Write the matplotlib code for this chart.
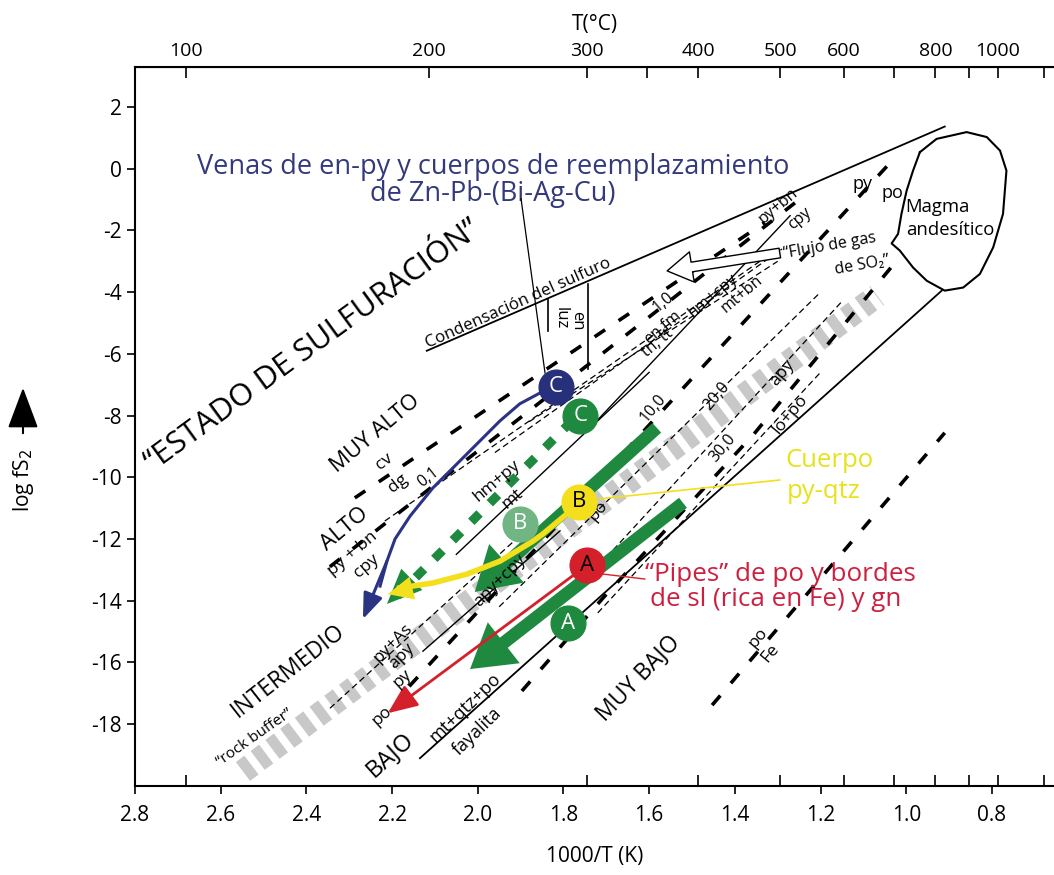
import numpy as np
import matplotlib
matplotlib.use("Agg")
import matplotlib.pyplot as plt

plt.rcParams['font.family'] = ['Open Sans', 'DejaVu Sans']
plt.rcParams['axes.unicode_minus'] = False

# -----------------------------
# Data (x = 1000/T(K), y = log fS2)
# -----------------------------
temp_ticks_top = [100, 200, 300, 350, 400, 500, 600, 700, 800, 900, 1000, 1200]
temp_labels_top = ["100", "200", "300", "", "400", "500", "600", "", "800", "", "1000", ""]
temp_ticks_bottom = [100, 300, 400, 500, 600, 700, 800, 900, 1000, 1200]
x_ticks = [2.8, 2.6, 2.4, 2.2, 2.0, 1.8, 1.6, 1.4, 1.2, 1.0, 0.8]
y_ticks = [2, 0, -2, -4, -6, -8, -10, -12, -14, -16, -18]

# boundary lines of the field
condensation_x = [2.119, 0.910]
condensation_y = [-5.90, 1.37]
lower_x = [2.135, 0.917]
lower_y = [-19.11, -3.95]

# thick dashed sulfidation boundaries
cvdg_x = [2.287, 1.330]
cvdg_y = [-10.67, -1.74]
pybn_x = [2.345, 1.250]
pybn_y = [-12.90, -1.00]
pypo_x = [2.160, 1.022]
pypo_y = [-16.78, 0.43]
apylo_x = [1.897, 1.708, 1.353, 1.026]
apylo_y = [-16.93, -13.92, -8.56, -3.04]
pofe_x = [1.453, 0.910]
pofe_y = [-17.39, -8.56]

# thin dashed / solid reaction lines
d01_x = [2.217, 1.300]
d01_y = [-11.42, -2.60]
d10_x = [1.960, 1.290]
d10_y = [-9.20, -2.60]
enfm_x = [1.880, 1.300]
enfm_y = [-8.20, -3.00]
hmpy_x = [2.050, 1.600]
hmpy_y = [-12.50, -6.60]
mtbn_x = [1.722, 1.271]
mtbn_y = [-8.17, -1.52]
d100_x = [1.950, 1.200]
d100_y = [-14.20, -4.00]
d200_x = [1.700, 1.150]
d200_y = [-12.60, -4.30]
d300_x = [1.720, 1.200]
d300_y = [-14.40, -6.60]
pyas_x = [2.345, 1.902]
pyas_y = [-17.49, -11.90]
apycpy_x = [2.128, 1.808]
apycpy_y = [-15.64, -11.74]

# rock buffer band
buffer_x = [2.548, 1.068]
buffer_y = [-19.54, -4.11]

# luz / en box
luz_x = [1.836, 1.836]
luz_y = [-4.21, -5.25]
en_x = [1.743, 1.743]
en_y = [-3.72, -6.48]

# andesitic magma outline
magma_x = [0.968, 0.929, 0.859, 0.812, 0.781, 0.766, 0.774, 0.797, 0.828, 0.867,
           0.910, 0.952, 0.984, 1.015, 1.034, 1.019, 1.011, 0.999, 0.984, 0.968]
magma_y = [0.54, 0.97, 1.19, 1.03, 0.59, -0.06, -1.46, -2.55, -3.41, -3.85,
           -3.95, -3.63, -3.20, -2.65, -2.42, -2.11, -1.46, -0.71, -0.06, 0.54]

# ore paths
blue_x = [1.818, 1.855, 1.902, 1.948, 2.025, 2.105, 2.158, 2.193, 2.212, 2.228, 2.268]
blue_y = [-7.07, -7.27, -7.62, -8.17, -9.24, -10.35, -11.26, -12.00, -12.72, -13.53, -14.60]
yellow_x = [1.764, 1.792, 1.848, 1.871, 1.948, 2.025, 2.105, 2.182, 2.210]
yellow_y = [-10.80, -11.19, -11.84, -12.07, -12.72, -13.14, -13.43, -13.59, -13.79]
green_c_x = [1.780, 2.193, 2.212]
green_c_y = [-8.17, -13.92, -14.11]
green_b_x = [1.582, 2.007]
green_b_y = [-8.40, -13.72]
green_a_x = [1.521, 2.018]
green_a_y = [-10.83, -16.22]
red_x = [1.745, 2.210]
red_y = [-12.85, -17.65]

# labelled circles: (x, y, letter, face, text colour)
circles = [
    (1.818, -7.07, "C", "#27307a", "white"),
    (1.761, -8.01, "C", "#1f8a3f", "white"),
    (1.764, -10.80, "B", "#f4df1c", "black"),
    (1.902, -11.51, "B", "#72b585", "white"),
    (1.745, -12.85, "A", "#d3202a", "black"),
    (1.790, -14.73, "A", "#1f8a3f", "white"),
]

# -----------------------------
# Figure
# -----------------------------
fig = plt.figure(figsize=(10.54, 8.75), dpi=100)
ax = fig.add_axes([0.1281, 0.1021, 0.8719, 0.8213])
ax.set_xlim(2.8, 0.655)
ax.set_ylim(-20, 3.3)

ax.set_xticks(x_ticks)
ax.set_xticklabels([f"{v:.1f}" for v in x_ticks])
ax.set_yticks(y_ticks)
ax.set_yticklabels([str(v) for v in y_ticks])
ax.tick_params(axis="both", direction="out", length=6, width=1.2, labelsize=15)
ax.tick_params(axis="x", pad=8)
for s in ["left", "bottom", "top"]:
    ax.spines[s].set_linewidth(1.5)
ax.spines["right"].set_visible(False)
ax.set_xlabel("1000/T (K)", fontsize=15, labelpad=14)


def k2t(x):
    x = np.asarray(x, dtype=float)
    return 1000.0 / np.where(x == 0, 1e-9, x) - 273.15


def t2k(t):
    t = np.asarray(t, dtype=float)
    return 1000.0 / (t + 273.15)


top = ax.secondary_xaxis("top", functions=(k2t, t2k))
top.set_xticks(temp_ticks_top)
top.set_xticklabels(temp_labels_top)
top.tick_params(direction="in", length=8, width=1.2, labelsize=14, pad=5)
top.set_xlabel("T(°C)", fontsize=15, labelpad=9)

bot = ax.secondary_xaxis("bottom", functions=(k2t, t2k))
bot.set_xticks(temp_ticks_bottom)
bot.set_xticklabels([])
bot.tick_params(direction="in", length=8, width=1.2)
bot.spines["bottom"].set_visible(False)

# y label with arrow
fig.text(24 / 1054, 1 - 480 / 875, "log fS$_2$", rotation=90, ha="center", va="center", fontsize=15)
fig.add_artist(matplotlib.patches.FancyArrowPatch(
    (23 / 1054, 1 - 436 / 875), (23 / 1054, 1 - 385 / 875), transform=fig.transFigure,
    arrowstyle="-|>,head_length=1.6,head_width=0.6", mutation_scale=16, color="black", lw=1.5))

# rock buffer
ax.plot(buffer_x, buffer_y, color="#c8c8c8", lw=17, dashes=(0.45, 0.33), solid_capstyle="butt",
        dash_capstyle="butt", zorder=1)

# field boundaries
ax.plot(condensation_x, condensation_y, color="black", lw=1.3, zorder=3)
ax.plot(lower_x, lower_y, color="black", lw=1.3, zorder=3)
ax.plot(magma_x, magma_y, color="black", lw=1.5, zorder=3)
ax.plot(luz_x, luz_y, color="black", lw=1.2, zorder=3)
ax.plot(en_x, en_y, color="black", lw=1.2, zorder=3)

for lx, ly in [(cvdg_x, cvdg_y), (pybn_x, pybn_y), (pypo_x, pypo_y), (apylo_x, apylo_y),
               (pofe_x, pofe_y)]:
    ax.plot(lx, ly, color="black", lw=2.6, dashes=(3.5, 4.5), zorder=3)

for lx, ly in [(d01_x, d01_y), (d10_x, d10_y), (enfm_x, enfm_y), (d100_x, d100_y),
               (d200_x, d200_y), (d300_x, d300_y), (pyas_x, pyas_y)]:
    ax.plot(lx, ly, color="black", lw=0.9, dashes=(5, 3), zorder=3)

for lx, ly in [(hmpy_x, hmpy_y), (mtbn_x, mtbn_y), (apycpy_x, apycpy_y)]:
    ax.plot(lx, ly, color="black", lw=1.0, zorder=3)

# ore paths
ax.plot(blue_x[:-1], blue_y[:-1], color="#2b3383", lw=2.2, zorder=5)
ax.annotate("", xy=(blue_x[-1], blue_y[-1]), xytext=(blue_x[-3], blue_y[-3]),
            arrowprops=dict(arrowstyle="-|>,head_length=1.3,head_width=0.5", mutation_scale=12,
                            color="#2b3383", lw=2.2, shrinkA=0, shrinkB=0), zorder=5)

ax.plot(green_c_x[:2], green_c_y[:2], color="#1f8a3f", lw=6.5, dashes=(1.3, 1.6), zorder=4)
ax.annotate("", xy=(green_c_x[2], green_c_y[2]), xytext=(green_c_x[0], green_c_y[0]),
            arrowprops=dict(arrowstyle="-|>,head_length=1.4,head_width=0.6", mutation_scale=18,
                            color="#1f8a3f", lw=0, shrinkA=0, shrinkB=0), zorder=4)

for gx, gy in [(green_b_x, green_b_y), (green_a_x, green_a_y)]:
    ax.annotate("", xy=(gx[1], gy[1]), xytext=(gx[0], gy[0]),
                arrowprops=dict(arrowstyle="simple,head_length=1.4,head_width=1.7,tail_width=0.42",
                                mutation_scale=22, color="#1f8a3f", lw=0, shrinkA=0, shrinkB=0),
                zorder=4)

ax.plot(yellow_x[:-1], yellow_y[:-1], color="#f4df1c", lw=4, zorder=6)
ax.annotate("", xy=(yellow_x[-1], yellow_y[-1]), xytext=(yellow_x[-3], yellow_y[-3]),
            arrowprops=dict(arrowstyle="-|>,head_length=1.3,head_width=0.6", mutation_scale=14,
                            color="#f4df1c", lw=0, shrinkA=0, shrinkB=0), zorder=6)

ax.annotate("", xy=(red_x[1], red_y[1]), xytext=(red_x[0], red_y[0]),
            arrowprops=dict(arrowstyle="-|>,head_length=1.3,head_width=0.55", mutation_scale=14,
                            color="#d3202a", lw=2.0, shrinkA=0, shrinkB=0), zorder=5)

# circles
for cx, cy, letter, face, tc in circles:
    ax.plot(cx, cy, "o", ms=25, mfc=face, mec=face, zorder=8)
    ax.text(cx, cy, letter, color=tc, fontsize=16, ha="center", va="center", zorder=9)

# leader lines
ax.plot([1.899, 1.843], [-0.97, -6.62], color="black", lw=0.9, zorder=7)
ax.plot([1.708, 1.610], [-13.14, -13.30], color="#d3202a", lw=1.0, zorder=7)
ax.plot([1.715, 1.295], [-10.70, -10.09], color="#f4df1c", lw=1.2, zorder=7)

# SO2 gas arrow
ax.annotate("", xy=(1.558, -3.31), xytext=(1.295, -2.73),
            arrowprops=dict(arrowstyle="simple,head_length=0.9,head_width=1.1,tail_width=0.35",
                            mutation_scale=20, fc="white", ec="black", lw=1.0, shrinkA=0, shrinkB=0),
            zorder=6)

# -----------------------------
# Labels
# -----------------------------
ax.text(1.965, 0.07, "Venas de en-py y cuerpos de reemplazamiento", color="#33397a",
        fontsize=19.5, ha="center", va="center")
ax.text(1.965, -0.82, "de Zn-Pb-(Bi-Ag-Cu)", color="#33397a", fontsize=19.5, ha="center", va="center")
ax.text(2.385, -5.74, "“ESTADO DE SULFURACIÓN”", fontsize=22.5, rotation=36, ha="center", va="center")
ax.text(1.906, -4.37, "Condensación del sulfuro", fontsize=12.2, rotation=24, ha="center", va="center")

rot_labels = [
    (2.240, -8.59, "MUY ALTO", 16, 40),
    (2.219, -9.50, "cv", 12.5, 38),
    (2.186, -10.19, "dg", 12.5, 38),
    (2.116, -10.01, "0,1", 11.5, 38),
    (2.310, -11.68, "ALTO", 16, 40),
    (2.291, -12.49, "py + bn", 12.5, 40),
    (2.259, -12.88, "cpy", 12.5, 40),
    (2.443, -16.28, "INTERMEDIO", 16.5, 38),
    (2.520, -18.43, "“rock buffer”", 11, 35),
    (2.198, -15.38, "py+As", 12.5, 45),
    (2.177, -15.80, "apy", 12.5, 45),
    (2.177, -16.52, "py", 12.5, 42),
    (2.224, -17.74, "po", 12.5, 42),
    (2.205, -18.98, "BAJO", 17, 42),
    (2.030, -17.46, "mt+qtz+po", 13, 44),
    (2.002, -18.24, "fayalita", 13, 44),
    (1.626, -16.52, "MUY BAJO", 16.5, 46),
    (1.346, -15.21, "po", 12.5, 50),
    (1.318, -15.70, "Fe", 12.5, 50),
    (1.955, -10.12, "hm+py", 12.5, 40),
    (1.918, -10.70, "mt", 12.5, 40),
    (1.720, -11.09, "po", 12.5, 50),
    (1.591, -7.75, "10,0", 11.5, 50),
    (1.442, -7.36, "20,0", 11.5, 50),
    (1.428, -9.05, "30,0", 11.5, 50),
    (1.948, -13.37, "apy+cpy", 12.5, 45),
    (1.290, -6.60, "apy", 12.5, 50),
    (1.272, -7.95, "lö+po", 12.5, 50),
    (1.568, -4.34, "1,0", 11.5, 40),
    (1.568, -5.15, "en,fm", 11.5, 40),
    (1.580, -5.64, "tn, tt", 11.5, 40),
    (1.451, -4.11, "hm+cpy", 11.5, 40),
    (1.383, -4.05, "mt+bn", 11.5, 40),
    (1.299, -1.19, "py+bn", 11.5, 40),
    (1.248, -1.61, "cpy", 11.5, 40),
]
for tx, ty, s, fs, r in rot_labels:
    ax.text(tx, ty, s, fontsize=fs, rotation=r, ha="center", va="center", zorder=7)

ax.text(1.806, -4.83, "luz", fontsize=12, rotation=-90, ha="center", va="center")
ax.text(1.768, -4.93, "en", fontsize=12, rotation=-90, ha="center", va="center")

ax.text(1.178, -2.49, "“Flujo de gas", fontsize=11.5, rotation=10, ha="center", va="center")
ax.text(1.103, -3.14, "de SO₂”", fontsize=11.5, rotation=10, ha="center", va="center")
ax.text(0.926, -1.23, "Magma", fontsize=13.3, ha="center", va="center")
ax.text(0.898, -1.97, "andesítico", fontsize=13.3, ha="center", va="center")
ax.text(1.101, -0.48, "py", fontsize=13, ha="center", va="center")
ax.text(1.033, -0.80, "po", fontsize=13, ha="center", va="center")

ax.text(1.610, -13.14, "“Pipes” de po y bordes", color="#cc2040", fontsize=18.7, ha="left", va="center")
ax.text(1.598, -13.95, "de sl (rica en Fe) y gn", color="#cc2040", fontsize=18.7, ha="left", va="center")
ax.text(1.180, -9.45, "Cuerpo", color="#e6e21c", fontsize=18.5, ha="center", va="center")
ax.text(1.192, -10.45, "py-qtz", color="#e6e21c", fontsize=18.5, ha="center", va="center")

fig.savefig("out.png", dpi=100)
